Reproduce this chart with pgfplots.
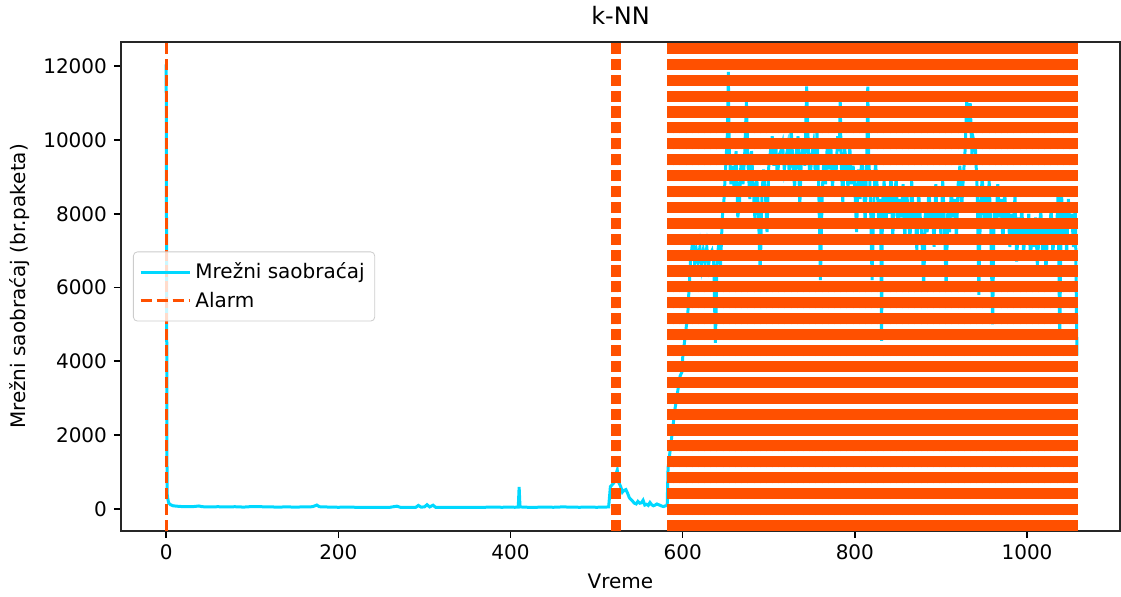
\documentclass[border=0pt]{standalone}
\usepackage{fontspec}
\setmainfont{DejaVu Sans}
\usepackage{pgfplots}
\pgfplotsset{compat=1.18}
\usepackage{pgfplotstable}

\definecolor{traffic}{RGB}{0,216,255}
\definecolor{alarm}{RGB}{255,80,0}

% network traffic (packets per time step)
\pgfplotstableread{
x y
0 12050
1 420
2 250
3 150
5 110
8 80
12 70
18 60
25 55
32 60
38 75
42 55
50 50
60 55
70 50
80 55
90 45
100 60
110 55
120 50
130 45
140 50
150 45
160 50
170 55
175 100
178 55
190 45
200 40
210 45
220 40
230 35
240 40
250 35
260 40
268 70
272 40
280 35
290 40
293 90
296 45
300 50
303 110
306 50
310 95
313 40
320 35
330 40
340 35
350 40
360 35
370 40
380 45
390 40
400 45
405 40
409 45
410 590
411 50
415 45
420 40
430 40
440 45
450 40
460 50
470 45
480 40
490 45
500 40
510 45
514 50
516 600
518 650
520 700
522 900
524 1050
526 700
528 600
530 450
532 500
534 520
536 420
538 300
540 250
542 200
544 150
546 130
548 200
550 150
552 160
554 230
556 100
558 120
560 90
562 170
564 110
566 80
568 100
570 130
572 110
574 90
576 70
578 60
580 80
582 90
583 1100
585 1500
587 1900
589 2300
591 2700
593 3000
595 3300
597 3600
599 3700
600 4100
602 4500
604 4900
606 5300
607 5800
608 6200
609 6700
610 6900
612 7400
614 6600
616 7000
618 6700
620 7100
622 6600
624 7000
626 6700
628 7100
630 6600
632 6900
634 7000
636 6700
638 4500
640 6800
642 7200
644 6600
646 7900
648 8400
650 9300
652 10200
653 11850
654 9800
656 8800
658 9300
660 8600
662 9700
664 7900
666 8300
668 9600
670 8800
672 9600
674 11050
676 9300
678 8400
680 9700
682 8700
684 7800
686 9000
688 8100
690 6300
692 8500
694 9200
696 8600
698 7500
700 9300
702 9700
704 10100
706 9300
708 10000
710 8900
712 9600
714 9700
716 9900
718 9200
720 9500
722 9800
724 9000
726 10300
728 9400
730 8700
732 9700
734 10100
736 8200
738 9600
740 10000
742 9300
744 11450
746 9700
748 8900
750 9600
752 9900
754 9100
756 10200
758 8800
760 6200
762 8500
764 9500
766 8800
768 9900
770 9200
772 9900
774 8700
776 9600
778 9000
780 10100
782 9700
783 11050
784 9500
786 8300
788 9800
790 9400
792 8700
794 9900
796 8800
798 9300
800 8700
802 7500
804 9200
806 8400
808 9600
810 8900
812 7700
814 9800
815 11450
816 9600
818 8500
820 6200
822 8300
824 9400
826 8700
828 7600
830 8400
831 4550
832 8200
834 8900
836 7700
838 8500
840 8000
842 9100
844 7400
846 8300
848 9000
850 7600
852 8400
854 7900
856 8800
858 7300
860 8600
862 8100
864 7200
866 8900
868 7800
870 8300
872 7000
874 8600
876 7900
878 7300
880 6000
882 8200
884 7500
886 8700
888 7800
890 8300
892 7100
894 8800
896 7600
898 8200
900 7400
902 8900
904 7800
906 6000
908 8100
910 7500
912 8700
914 7900
916 8400
918 7300
920 8800
922 9300
924 8100
926 9000
928 9700
930 11050
932 10400
934 11000
936 9600
938 10000
940 9800
942 8700
944 5800
946 8300
948 9000
950 7800
952 8500
954 7700
956 8900
958 7500
960 5000
962 8300
964 7600
966 8800
968 7900
970 8400
972 7200
974 8600
976 7800
978 8300
980 7100
982 8000
984 7400
986 8500
988 6700
990 7900
992 7300
994 8200
996 6900
998 7700
1000 7200
1002 8000
1004 6800
1006 7600
1008 7100
1010 7900
1012 6600
1014 7500
1016 8100
1018 7000
1020 7600
1022 6400
1024 7800
1026 7200
1028 8200
1030 6900
1032 7700
1034 7300
1036 8500
1038 4700
1040 8600
1042 7400
1044 8100
1046 6900
1048 8400
1050 7600
1052 8000
1054 7100
1056 8300
1058 4150
}\traffictable

\begin{document}
\begin{tikzpicture}
\path[use as bounding box] (-60.5pt,-33pt) rectangle (500pt,265.5pt);
\begin{axis}[
  at={(0,0)}, anchor=south west,
  scale only axis, width=499.5pt, height=244.5pt,
  xmin=-52.5, xmax=1108, ymin=-603, ymax=12658,
  xtick={0,200,...,1000}, ytick={0,2000,...,12000},
  xtick pos=bottom, ytick pos=left,
  tick align=outside, major tick length=3.5pt,
  every tick/.style={black, line width=0.8pt},
  axis line style={line width=0.8pt, black!85},
  /pgf/number format/assume math mode=true,
  /pgf/number format/1000 sep={},
  scaled y ticks=false,
  tick label style={font=\fontsize{10}{12}\selectfont},
  title={k-NN},
  title style={font=\fontsize{12}{14}\selectfont, yshift=-1pt},
  xlabel={Vreme},
  ylabel={Mrežni saobraćaj (br.paketa)},
  label style={font=\fontsize{10}{12}\selectfont},
  legend style={at={(0,0.5)}, anchor=west, xshift=6pt,
    draw=black!20, rounded corners=2pt, fill=white, fill opacity=0.8,
    draw opacity=1, text opacity=1,
    font=\fontsize{10}{12}\selectfont,
    inner xsep=3pt, inner ysep=3.5pt,
    row sep=1pt},
  legend cell align=left,
  legend image code/.code={\draw[#1] (0pt,0pt) -- (20pt,0pt);
    \path (0pt,0pt) -- (24.5pt,0pt);},
  clip=true,
]
\addplot[traffic, line width=1.5pt] table[x=x, y=y] {\traffictable};
\addlegendentry{Mrežni saobraćaj}

% alarm raised at these time steps
\addplot[alarm, line width=1.5pt, dash pattern=on 5.55pt off 2.4pt]
  coordinates {(0,-603) (0,12658)};
\addlegendentry{Alarm}
\pgfplotsinvokeforeach{518,519,...,527,584,585,...,1057}{
  \addplot[alarm, line width=1.5pt, dash pattern=on 5.55pt off 2.4pt, forget plot]
    coordinates {(#1,-603) (#1,12658)};
}
\end{axis}
\end{tikzpicture}
\end{document}
